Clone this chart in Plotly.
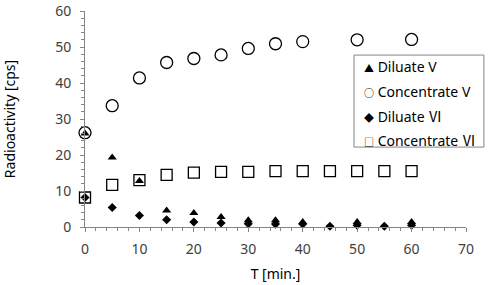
import plotly.graph_objects as go

t_v = [0, 5, 10, 15, 20, 25, 30, 35, 40, 50, 60]
diluate_v = [26.0, 19.3, 12.8, 4.6, 3.9, 2.8, 1.9, 1.9, 1.4, 1.4, 1.4]
concentrate_v = [26.2, 33.7, 41.4, 45.7, 46.8, 47.8, 49.6, 50.9, 51.5, 52.0, 52.1]

t_vi = [0, 5, 10, 15, 20, 25, 30, 35, 40, 45, 50, 55, 60]
diluate_vi = [8.2, 5.4, 3.2, 2.0, 1.4, 1.1, 0.9, 0.8, 0.8, 0.2, 0.5, 0.2, 0.5]
concentrate_vi = [8.2, 11.7, 13.0, 14.5, 15.1, 15.3, 15.3, 15.5, 15.5, 15.5, 15.5, 15.5, 15.5]

legend_names = ["Diluate V", "Concentrate V", "Diluate Ⅵ", "Concentrate Ⅵ"]
legend_glyphs = ["▲", "○", "◆", "□"]

FONT = "Noto Sans, Noto Sans CJK KR, sans-serif"

fig = go.Figure()
fig.add_trace(go.Scatter(x=t_v, y=diluate_v, mode="markers", name=legend_names[0],
                         marker=dict(symbol="triangle-up", size=8, color="black"),
                         cliponaxis=False))
fig.add_trace(go.Scatter(x=t_v, y=concentrate_v, mode="markers", name=legend_names[1],
                         marker=dict(symbol="circle-open", size=12, color="black",
                                     line=dict(width=1.3, color="black")),
                         cliponaxis=False))
fig.add_trace(go.Scatter(x=t_vi, y=diluate_vi, mode="markers", name=legend_names[2],
                         marker=dict(symbol="diamond", size=7, color="black"),
                         cliponaxis=False))
fig.add_trace(go.Scatter(x=t_vi, y=concentrate_vi, mode="markers", name=legend_names[3],
                         marker=dict(symbol="square-open", size=11, color="black",
                                     line=dict(width=1.3, color="black")),
                         cliponaxis=False))

axis_common = dict(
    showgrid=False, zeroline=False, showline=True, linecolor="#868686", linewidth=1,
    ticks="outside", ticklen=4, tickcolor="#868686", tickwidth=1,
    tickfont=dict(family=FONT, size=14, color="#404040"),
    minor=dict(ticks="outside", ticklen=3, tickcolor="#868686", dtick=2, showgrid=False),
    automargin=False,
)

# Manual legend box (compact, like the original)
lx0, lx1, ly0, ly1 = 0.706, 1.047, 0.370, 0.796
item_y = [0.741, 0.627, 0.514, 0.405]
shapes = [dict(type="rect", xref="paper", yref="paper", x0=lx0, x1=lx1, y0=ly0, y1=ly1,
               line=dict(color="#868686", width=1), fillcolor="white", layer="above")]
annotations = []
for g, n, yy in zip(legend_glyphs, legend_names, item_y):
    label = n.replace("Ⅵ", "<span style='font-family:\"Noto Sans CJK KR\"'>Ⅵ</span>")
    annotations.append(dict(
        xref="paper", yref="paper", x=0.727, y=yy, xanchor="left", yanchor="middle",
        showarrow=False,
        text=f"<span style='font-size:10px'>{g}</span> {label}",
        font=dict(family=FONT, size=14, color="black"),
    ))

fig.update_layout(
    width=490, height=285,
    margin=dict(l=85, r=24, t=11, b=58, autoexpand=False),
    paper_bgcolor="white", plot_bgcolor="white",
    font=dict(family=FONT, size=14, color="black"),
    xaxis=dict(range=[0, 70], dtick=10, tick0=0, ticklabelstandoff=5,
               title=dict(text="T [min.]", font=dict(family=FONT, size=14, color="black"), standoff=12),
               **axis_common),
    yaxis=dict(range=[0, 60], dtick=10, tick0=0, ticklabelstandoff=6,
               title=dict(text="Radioactivity [cps]", font=dict(family=FONT, size=14, color="black"), standoff=36),
               **axis_common),
    showlegend=False,
    shapes=shapes,
    annotations=annotations,
)

fig.write_html("out.html", config={"displayModeBar": False},
               post_script="document.body.style.margin='0';document.body.style.overflow='hidden';")
